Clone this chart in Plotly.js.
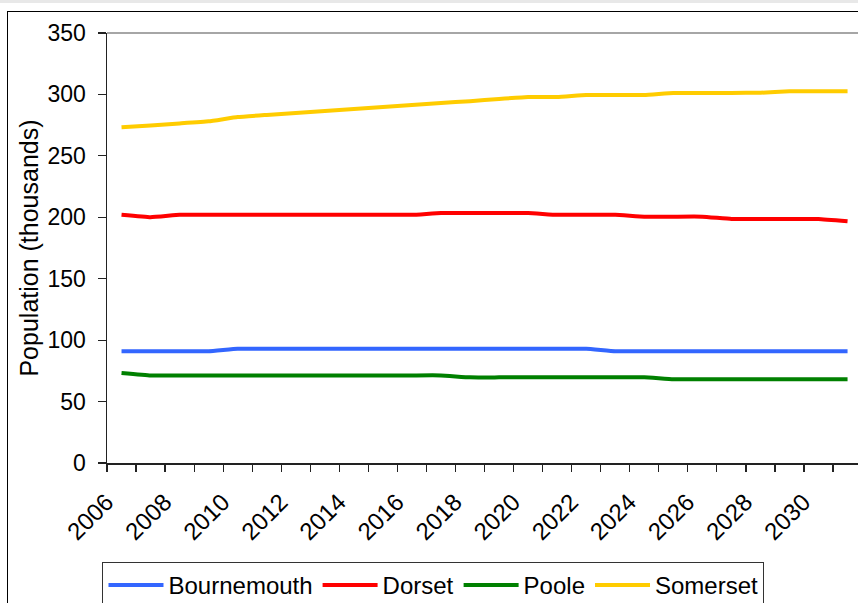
<!DOCTYPE html>
<html>
<head>
<meta charset="utf-8">
<script src="https://cdn.plot.ly/plotly-3.0.1.min.js"></script>
<style>
  html, body { margin: 0; padding: 0; background: #ffffff; overflow: hidden; }
  #wrap { position: relative; width: 858px; height: 603px; }
  #chart { position: absolute; left: 0; top: 0; width: 858px; height: 603px; }
  #band { position: absolute; left: 0; top: 0; width: 858px; height: 3px; background: #e8e8e8; pointer-events: none; }
  #frame { position: absolute; left: 7px; top: 11px; width: 900px; height: 700px;
           border-left: 1.5px solid #000; border-top: 1.5px solid #000; pointer-events: none; }
</style>
</head>
<body>
<div id="wrap">
  <div id="chart"></div>
  <div id="band"></div>
  <div id="frame"></div>
</div>
<script>
const years = [2006,2007,2008,2009,2010,2011,2012,2013,2014,2015,2016,2017,2018,
               2019,2020,2021,2022,2023,2024,2025,2026,2027,2028,2029,2030,2031];
const bournemouth = [91,91,91,91,93,93,93,93,93,93,93,93,93,
                     93,93,93,93,91,91,91,91,91,91,91,91,91];
const dorset = [202,200,202,202,202,202,202,202,202,202,202,203.5,203.5,
                203.5,203.5,202,202,202,200.5,200.5,200.5,198.6,198.6,198.6,198.6,196.7];
const poole = [73.3,71.3,71.3,71.3,71.3,71.3,71.3,71.3,71.3,71.3,71.3,71.3,69.7,
               69.7,69.7,69.7,69.7,69.7,69.7,68.1,68.1,68.1,68.1,68.1,68.1,68.1];
const somerset = [273.2,274.8,276.4,278.1,281.6,283.3,284.9,286.5,288.2,289.8,291.4,293.0,294.5,
                  296.3,297.9,297.9,299.5,299.5,299.5,301.2,301.2,301.2,301.4,302.5,302.5,302.5];
const tickYears = [2006,2008,2010,2012,2014,2016,2018,2020,2022,2024,2026,2028,2030];
const tickLabels = tickYears.map(String);

const seriesNames = ['Bournemouth','Dorset','Poole','Somerset'];
const seriesData = [bournemouth, dorset, poole, somerset];
const seriesColors = ['#3366FF','#FF0000','#008000','#FFCC00'];

const FONT = 'Liberation Sans, Arial, sans-serif';

const traces = seriesNames.map((n, k) => ({
  type: 'scatter', mode: 'lines', name: n,
  x: years, y: seriesData[k],
  line: {color: seriesColors[k], width: 4, shape: 'spline', smoothing: 0.3},
  hoverinfo: 'skip'
}));

const layout = {
  width: 858, height: 603,
  margin: {l: 107, r: 0, t: 33, b: 140, autoexpand: false},
  paper_bgcolor: '#ffffff', plot_bgcolor: '#ffffff',
  font: {family: FONT, size: 23, color: '#000'},
  showlegend: true,
  xaxis: {
    range: [2005.5, 2031.36],
    tickmode: 'array', tickvals: tickYears, ticktext: tickLabels,
    ticks: '', tickangle: -45,
    ticklabelstandoff: 14, ticklabelshift: -15,
    minor: {tick0: 2005.5, dtick: 1, ticks: 'outside', ticklen: 7, tickcolor: '#222', tickwidth: 1.2, showgrid: false},
    showline: true, linecolor: '#222', linewidth: 1.5,
    showgrid: false, zeroline: false,
    tickfont: {family: FONT, size: 24, color: '#000'}
  },
  yaxis: {
    range: [0, 350], dtick: 50, tick0: 0,
    ticks: 'outside', ticklen: 8, tickcolor: '#222', tickwidth: 1.2,
    ticklabelstandoff: 7,
    showline: true, linecolor: '#222', linewidth: 1.5,
    showgrid: false, zeroline: false,
    tickfont: {family: FONT, size: 23, color: '#000'},
    title: {text: 'Population (thousands)', font: {family: FONT, size: 25, color: '#000'}, standoff: 2}
  },
  legend: {
    orientation: 'h', x: -0.006, xanchor: 'left', y: -0.2302, yanchor: 'top',
    bgcolor: '#ffffff', bordercolor: '#333', borderwidth: 1,
    font: {family: FONT, size: 24, color: '#000'},
    itemwidth: 55, traceorder: 'normal'
  },
  shapes: [
    {type: 'line', xref: 'paper', yref: 'paper', x0: 0, x1: 1, y0: 1, y1: 1,
     line: {color: '#888', width: 1.5}}
  ]
};

Plotly.newPlot('chart', traces, layout, {staticPlot: true, displayModeBar: false});
</script>
</body>
</html>
